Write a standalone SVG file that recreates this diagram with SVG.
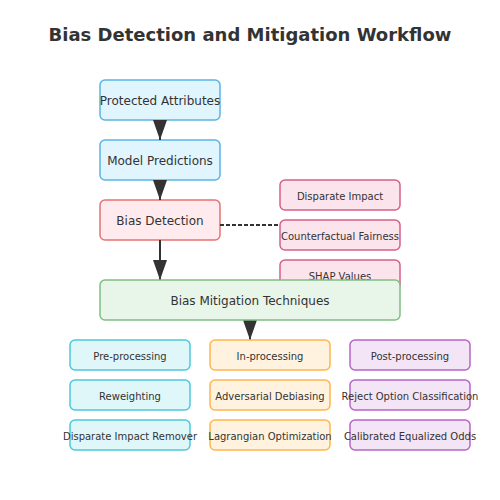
<svg xmlns="http://www.w3.org/2000/svg" width="500" height="500" viewBox="0 0 500 500">
<style>
text{font-family:"DejaVu Sans","Liberation Sans",sans-serif;fill:#333;text-anchor:middle;dominant-baseline:central}
.title{font-size:18px;font-weight:bold}
.m{font-size:12px}
.s{font-size:10px}
rect{stroke-width:1.5}
.blue{fill:#e1f5fe;stroke:#5ab4e5}
.red{fill:#ffebee;stroke:#e57373}
.pink{fill:#fce4ec;stroke:#d6608a}
.green{fill:#e8f5e9;stroke:#7fbf82}
.cyan{fill:#e0f7fa;stroke:#4dc8dc}
.orange{fill:#fff3e0;stroke:#ffb74d}
.purple{fill:#f3e5f5;stroke:#b566c6}
.edge{stroke:#333;stroke-width:2;fill:none}
.dash{stroke:#333;stroke-width:2;fill:none;stroke-dasharray:4,2}
</style>
<defs>
<marker id="ah" markerUnits="userSpaceOnUse" markerWidth="20" markerHeight="14" viewBox="0 0 20 14" refX="20" refY="7" orient="auto">
<path d="M0,0 L20,7 L0,14 Z" fill="#333"/>
</marker>
</defs>
<text class="title" x="250" y="34">Bias Detection and Mitigation Workflow</text>

<g id="protected-attributes"><rect class="blue" x="100" y="80" width="120" height="40" rx="5"/><text class="m" x="160" y="101">Protected Attributes</text></g>
<g id="model-predictions"><rect class="blue" x="100" y="140" width="120" height="40" rx="5"/><text class="m" x="160" y="161">Model Predictions</text></g>
<g id="bias-detection"><rect class="red" x="100" y="200" width="120" height="40" rx="5"/><text class="m" x="160" y="221">Bias Detection</text></g>
<g id="disparate-impact"><rect class="pink" x="280" y="180" width="120" height="30" rx="5"/><text class="s" x="340" y="196">Disparate Impact</text></g>
<g id="counterfactual-fairness"><rect class="pink" x="280" y="220" width="120" height="30" rx="5"/><text class="s" x="340" y="236">Counterfactual Fairness</text></g>
<g id="shap-values"><rect class="pink" x="280" y="260" width="120" height="30" rx="5"/><text class="s" x="340" y="276">SHAP Values</text></g>

<g id="connectors">
<line class="edge" x1="160" y1="120" x2="160" y2="140" marker-end="url(#ah)"/>
<line class="edge" x1="160" y1="180" x2="160" y2="200" marker-end="url(#ah)"/>
<line class="edge" x1="160" y1="240" x2="160" y2="280" marker-end="url(#ah)"/>
<line class="edge" x1="250" y1="320" x2="250" y2="340" marker-end="url(#ah)"/>
<line class="dash" x1="220" y1="225" x2="280" y2="225"/>
</g>

<g id="bias-mitigation"><rect class="green" x="100" y="280" width="300" height="40" rx="5"/><text class="m" x="250" y="301">Bias Mitigation Techniques</text></g>

<g id="pre-processing"><rect class="cyan" x="70" y="340" width="120" height="30" rx="5"/><text class="s" x="130" y="356">Pre-processing</text></g>
<g id="reweighting"><rect class="cyan" x="70" y="380" width="120" height="30" rx="5"/><text class="s" x="130" y="396">Reweighting</text></g>
<g id="disparate-impact-remover"><rect class="cyan" x="70" y="420" width="120" height="30" rx="5"/><text class="s" x="130" y="436">Disparate Impact Remover</text></g>

<g id="in-processing"><rect class="orange" x="210" y="340" width="120" height="30" rx="5"/><text class="s" x="270" y="356">In-processing</text></g>
<g id="adversarial-debiasing"><rect class="orange" x="210" y="380" width="120" height="30" rx="5"/><text class="s" x="270" y="396">Adversarial Debiasing</text></g>
<g id="lagrangian-optimization"><rect class="orange" x="210" y="420" width="120" height="30" rx="5"/><text class="s" x="270" y="436">Lagrangian Optimization</text></g>

<g id="post-processing"><rect class="purple" x="350" y="340" width="120" height="30" rx="5"/><text class="s" x="410" y="356">Post-processing</text></g>
<g id="reject-option"><rect class="purple" x="350" y="380" width="120" height="30" rx="5"/><text class="s" x="410" y="396">Reject Option Classification</text></g>
<g id="calibrated-eq-odds"><rect class="purple" x="350" y="420" width="120" height="30" rx="5"/><text class="s" x="410" y="436">Calibrated Equalized Odds</text></g>
</svg>
